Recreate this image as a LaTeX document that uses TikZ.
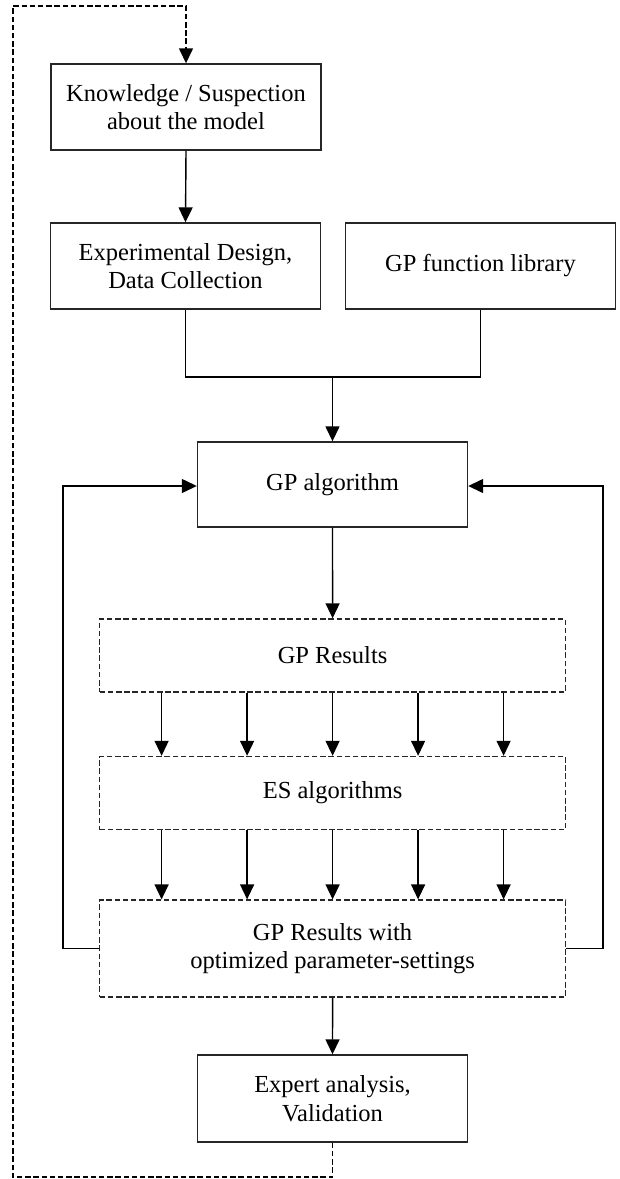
\documentclass[tikz,border=0pt]{standalone}
\usepackage{fontspec}
\setmainfont{Liberation Serif}
\usetikzlibrary{arrows.meta}
\begin{document}
\begin{tikzpicture}[x=1pt,y=-1pt,
  every node/.style={font=\fontsize{24.5}{28.5}\selectfont, align=center, inner sep=0pt},
  solidbox/.style={draw=black!85, line width=1.4pt, minimum width=270pt},
  dashbox/.style={draw=black!85, line width=1.4pt, dash pattern=on 5.5pt off 2.7pt, minimum width=466pt},
  conn/.style={draw=black, line width=1.4pt},
  arr/.style={conn, -{Triangle[length=15pt,width=14pt]}},
  loopline/.style={draw=black, line width=1.4pt, dash pattern=on 5.5pt off 2.7pt}
]
\useasboundingbox (0,0) rectangle (619,1179);
\node[solidbox, minimum height=86pt] (k) at (186,107) {Knowledge / Suspection\\about the model};
\node[solidbox, minimum height=86pt] (e) at (185.5,266) {Experimental Design,\\Data Collection};
\node[solidbox, minimum height=86pt] (f) at (480.5,266) {GP function library};
\node[solidbox, minimum height=85pt] (a) at (332.5,484.5) {GP algorithm};
\node[dashbox, minimum height=73pt] (r) at (332.6,655.5) {GP Results};
\node[dashbox, minimum height=73pt] (s) at (332.6,793) {ES algorithms};
\node[dashbox, minimum height=97pt] (o) at (332.6,948.6) {GP Results with\\optimized parameter-settings};
\node[solidbox, minimum height=87pt] (x) at (332.5,1098.5) {Expert analysis,\\Validation};

\coordinate (j) at (332.5,377);
\coordinate (lb) at (332.5,1177);
\coordinate (lbl) at (13,1177);
\coordinate (ltl) at (13,6);
\coordinate (lt) at (186,6);
\coordinate (fl) at (63,486);
\coordinate (fr) at (603,486);

\draw[arr] (k.south) -- (e.north);
\draw[conn] (e.south) |- (j);
\draw[conn] (f.south) |- (j);
\draw[arr] (j) -- (a.north);
\draw[arr] (a.south) -- (r.north);
\foreach \d in {-171,-85.5,0,85.5,171}{
  \draw[arr] ([xshift=\d pt]r.south) -- ([xshift=\d pt]s.north);
  \draw[arr] ([xshift=\d pt]s.south) -- ([xshift=\d pt]o.north);
}
\draw[arr] (o.west) -| (fl) -- (fl -| a.west);
\draw[arr] (o.east) -| (fr) -- (fr -| a.east);
\draw[arr] (o.south) -- (x.north);
\draw[loopline, -{Triangle[length=15pt,width=14pt]}] (x.south) -- (lb) -- (lbl) -- (ltl) -- (lt) -- (k.north);
\end{tikzpicture}
\end{document}
